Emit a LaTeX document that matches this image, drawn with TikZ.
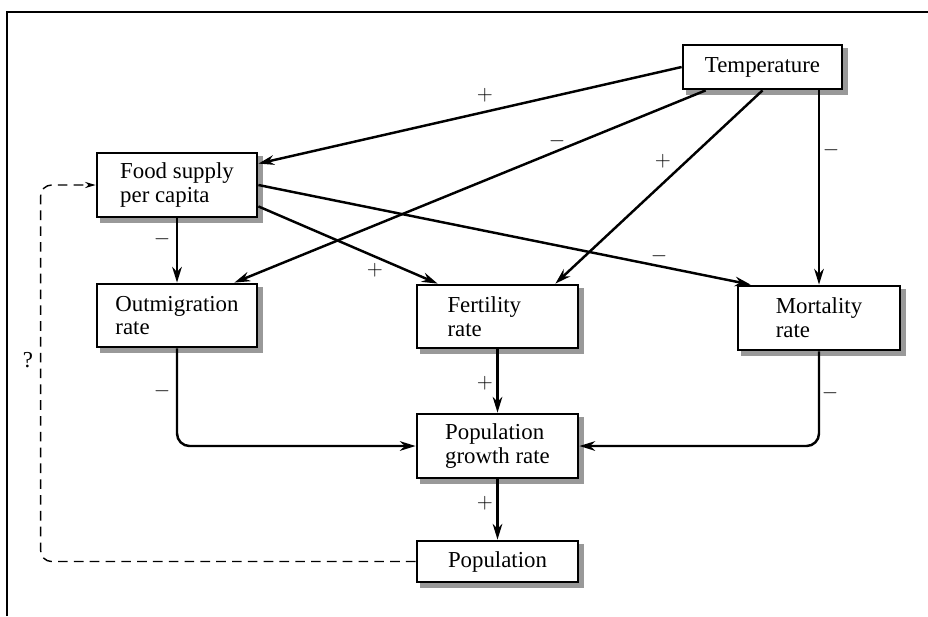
\documentclass[tikz,border=0pt]{standalone}
\usepackage{fontspec}
\setmainfont{Liberation Serif}
\usetikzlibrary{arrows.meta, backgrounds}

\begin{document}
\begin{tikzpicture}[x=0.02cm, y=-0.02cm,
  font=\fontsize{13}{13.5}\selectfont,
  box/.style={draw, line width=1.6pt, fill=white, align=left, inner sep=0pt},
  shade/.style={fill=black!40},
  link/.style={line width=1.4pt, -{Stealth[length=9pt, width=5.5pt]}},
  feedback/.style={line width=0.8pt, dash pattern=on 5.5pt off 3.5pt, rounded corners=0.22cm,
    -{Stealth[length=6pt, width=3.5pt]}},
  sign/.style={inner sep=1pt}]
  \useasboundingbox (0,0) rectangle (928,616);
  % Outer frame, cut at the right and bottom
  \draw[line width=1pt] (7,616) -- (7,12) -- (928,12);

  % Boxes
  \node[box, minimum width=3.18cm, minimum height=0.88cm] (temp) at (762.5,67) {Temperature};
  \node[box, minimum width=3.2cm, minimum height=1.28cm] (food) at (177,185) {Food supply\\per capita};
  \node[box, minimum width=3.2cm, minimum height=1.26cm] (outmig) at (177,315.5) {Outmigration\\rate};
  \node[box, minimum width=3.22cm, minimum height=1.26cm, text width=2.0cm] (fert) at (497.5,316.5) {Fertility\\rate};
  \node[box, minimum width=3.24cm, minimum height=1.28cm] (mort) at (819,318) {Mortality\\rate};
  \node[box, minimum width=3.22cm, minimum height=1.28cm] (growth) at (497.5,446) {Population\\growth rate};
  \node[box, minimum width=3.22cm, minimum height=0.82cm] (pop) at (497.5,561.5) {Population};

  % Shadows behind the boxes
  \begin{pgfonlayer}{background}
    \foreach \b in {temp, food, outmig, fert, mort, growth, pop}
      \fill[shade] ([xshift=0.09cm, yshift=-0.09cm]\b.south west) rectangle ([xshift=0.09cm, yshift=-0.09cm]\b.north east);
  \end{pgfonlayer}

  % Links from temperature
  \draw[link] (temp.west) -- ([yshift=-0.24cm]food.north east);
  \node[sign] (s1) at (485,95) {$+$};
  \draw[link] ([xshift=0.48cm]temp.south west) -- ([xshift=-0.48cm]outmig.north east);
  \node[sign] (s2) at (557,141) {$-$};
  \draw[link] (temp.south) -- ([xshift=-0.48cm]fert.north east);
  \node[sign] (s3) at (663,161) {$+$};
  \draw[link] (mort.north |- temp.south) -- (mort.north);
  \node[sign] (s4) at (831,150) {$-$};

  % Links from food supply
  \draw[link] (food) -- (outmig);
  \node[sign] (s5) at (162,239) {$-$};
  \draw[link] ([yshift=0.24cm]food.south east) -- ([xshift=0.44cm]fert.north west);
  \node[sign] (s6) at (375,270) {$+$};
  \draw[link] (food.east) -- ([xshift=0.28cm]mort.north west);
  \node[sign] (s7) at (659,256) {$-$};

  % Rates into population growth
  \draw[link, rounded corners=0.25cm] (outmig.south) |- (growth.west);
  \node[sign] (s8) at (162,391) {$-$};
  \draw[link] (fert) -- (growth);
  \node[sign] (s9) at (485,383) {$+$};
  \draw[link, rounded corners=0.25cm] (mort.south) |- (growth.east);
  \node[sign] (s10) at (830,393) {$-$};
  \draw[link] (growth) -- (pop);
  \node[sign] (s11) at (485,503) {$+$};

  % Feedback to food supply
  \draw[feedback] (pop.west) -| ([xshift=-1.1cm]food.west) -- (food.west);
  \node[sign] (q) at (28,360) {?};
\end{tikzpicture}
\end{document}
